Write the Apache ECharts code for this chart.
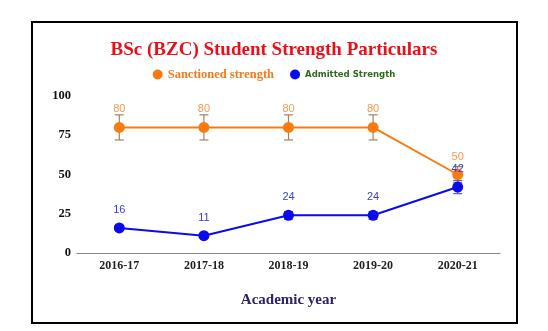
<!DOCTYPE html>
<html><head><meta charset="utf-8">
<script src="https://cdn.jsdelivr.net/npm/echarts@6/dist/echarts.min.js"></script>
<style>html,body{margin:0;padding:0;background:#fff}
#frame{position:absolute;left:31px;top:21px;width:483px;height:299px;border:2px solid #000}
#c{position:absolute;left:0;top:0;width:548px;height:331px}</style>
</head><body>
<div id="frame"></div>
<div id="c"></div>
<script>
const categories = ['2016-17','2017-18','2018-19','2019-20','2020-21'];
const sanctioned = [80, 80, 80, 80, 50];
const admitted = [16, 11, 24, 24, 42];
const yTicks = [0, 25, 50, 75, 100];
const errorPct = 0.1;

function errData(vals){ return vals.map((v,i)=>[i, v*(1-errorPct), v*(1+errorPct)]); }
function errSeries(vals, color){
  return {
    type:'custom', z:1, silent:true,
    data: errData(vals),
    renderItem: function(params, api){
      const x = api.value(0);
      const lo = api.coord([x, api.value(1)]);
      const hi = api.coord([x, api.value(2)]);
      const w = 4.5;
      const st = {stroke:color, lineWidth:1.2};
      return {type:'group', children:[
        {type:'line', shape:{x1:lo[0],y1:lo[1],x2:hi[0],y2:hi[1]}, style:st},
        {type:'line', shape:{x1:lo[0]-w,y1:lo[1],x2:lo[0]+w,y2:lo[1]}, style:st},
        {type:'line', shape:{x1:hi[0]-w,y1:hi[1],x2:hi[0]+w,y2:hi[1]}, style:st}
      ]};
    }
  };
}
const chart = echarts.init(document.getElementById('c'));
chart.setOption({
  animation:false,
  title:{text:'BSc (BZC) Student Strength Particulars', left:'center', top:36,
    textStyle:{fontFamily:'Liberation Serif', fontWeight:'bold', fontSize:19, color:'#e8111b'}},
  legend:{top:63, left:'center', itemWidth:10, itemHeight:10, itemGap:16,
    data:[
      {name:'Sanctioned strength', icon:'circle', textStyle:{color:'#f07a1c', fontFamily:'Liberation Serif', fontWeight:'bold', fontSize:12.5}},
      {name:'Admitted Strength', icon:'circle', textStyle:{color:'#2e6b1e', fontFamily:'DejaVu Sans Condensed', fontWeight:'bold', fontSize:9.5}}
    ]},
  grid:{left:77, right:48, top:96, bottom:78},
  xAxis:{type:'category', data:categories, boundaryGap:true,
    axisLine:{lineStyle:{color:'#888', width:1}}, axisTick:{show:false},
    axisLabel:{color:'#222', fontFamily:'Liberation Serif', fontWeight:'bold', fontSize:12, margin:7},
    name:'Academic year', nameLocation:'middle', nameGap:40,
    nameTextStyle:{color:'#2b2366', fontFamily:'Liberation Serif', fontWeight:'bold', fontSize:15}},
  yAxis:{type:'value', min:yTicks[0], max:yTicks[yTicks.length-1], interval:25,
    splitLine:{show:false}, axisLine:{show:false}, axisTick:{show:false},
    axisLabel:{color:'#111', fontFamily:'Liberation Serif', fontWeight:'bold', fontSize:12.5, margin:6}},
  series:[
    errSeries(sanctioned, '#a88060'),
    errSeries(admitted, '#5a5ae0'),
    {name:'Sanctioned strength', type:'line', data:sanctioned, z:3,
      symbol:'circle', symbolSize:11, color:'#fb7a0c',
      lineStyle:{width:2, color:'#fb7a0c'}, itemStyle:{color:'#fb7a0c'},
      label:{show:true, position:'top', distance:7, color:'#f39a50', fontFamily:'Liberation Sans', fontSize:11}},
    {name:'Admitted Strength', type:'line', data:admitted, z:4,
      symbol:'circle', symbolSize:11, color:'#0a0af0',
      lineStyle:{width:2, color:'#0a0af0'}, itemStyle:{color:'#0a0af0'},
      label:{show:true, position:'top', distance:7, color:'#3a3ae0', fontFamily:'Liberation Sans', fontSize:11}}
  ]
});
</script>
</body></html>
